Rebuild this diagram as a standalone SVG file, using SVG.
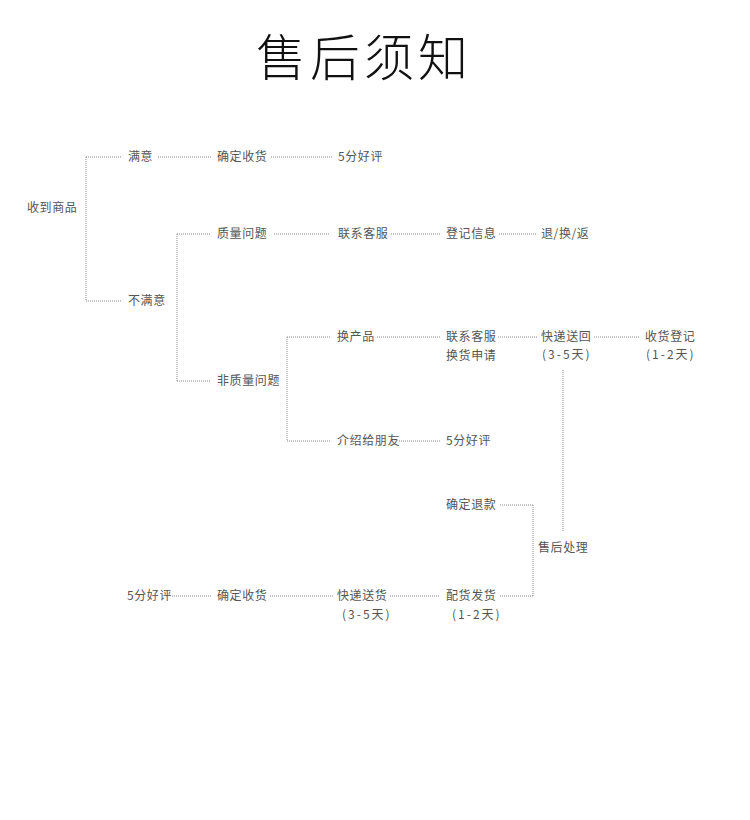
<svg xmlns="http://www.w3.org/2000/svg" width="750" height="820" viewBox="0 0 750 820">
<style>
.t{font-family:"Noto Sans CJK SC","Liberation Sans",sans-serif;font-size:12px;fill:#555;letter-spacing:0.6px}
.p{letter-spacing:2px}
.title{font-family:"Noto Sans CJK SC",sans-serif;font-size:50px;font-weight:300;fill:#111;letter-spacing:4px}
.c line{stroke:#8a8a8a;stroke-width:1;stroke-dasharray:1 1;fill:none}
</style>
<rect width="750" height="820" fill="#fff"/>
<text class="title" x="256" y="76">售后须知</text>
<g class="c" id="connectors">
<line x1="86" y1="157" x2="86" y2="301"/>
<line x1="86" y1="157" x2="121" y2="157"/>
<line x1="86" y1="301" x2="121" y2="301"/>
<line x1="158" y1="157" x2="211" y2="157"/>
<line x1="271" y1="157" x2="332" y2="157"/>
<line x1="177" y1="234" x2="177" y2="381"/>
<line x1="177" y1="234" x2="211" y2="234"/>
<line x1="177" y1="381" x2="211" y2="381"/>
<line x1="274" y1="234" x2="329" y2="234"/>
<line x1="391" y1="234" x2="440" y2="234"/>
<line x1="499" y1="234" x2="537" y2="234"/>
<line x1="287" y1="337" x2="287" y2="441"/>
<line x1="287" y1="337" x2="331" y2="337"/>
<line x1="287" y1="441" x2="331" y2="441"/>
<line x1="377" y1="337" x2="440" y2="337"/>
<line x1="498" y1="337" x2="537" y2="337"/>
<line x1="594" y1="337" x2="640" y2="337"/>
<line x1="399" y1="441" x2="440" y2="441"/>
<line x1="563" y1="370" x2="563" y2="532"/>
<line x1="500" y1="505" x2="533" y2="505"/>
<line x1="533" y1="505" x2="533" y2="596"/>
<line x1="500" y1="596" x2="533" y2="596"/>
<line x1="172" y1="596" x2="211" y2="596"/>
<line x1="270" y1="596" x2="333" y2="596"/>
<line x1="390" y1="596" x2="440" y2="596"/>
</g>
<g id="n1"><text class="t" x="27" y="212">收到商品</text></g>
<g id="n2"><text class="t" x="128" y="161">满意</text></g>
<g id="n3"><text class="t" x="217" y="161">确定收货</text></g>
<g id="n4"><text class="t" x="338" y="161">5分好评</text></g>
<g id="n5"><text class="t" x="128" y="305">不满意</text></g>
<g id="n6"><text class="t" x="217" y="238">质量问题</text></g>
<g id="n7"><text class="t" x="338" y="238">联系客服</text></g>
<g id="n8"><text class="t" x="446" y="238">登记信息</text></g>
<g id="n9"><text class="t" x="541" y="238">退/换/返</text></g>
<g id="n10"><text class="t" x="217" y="385">非质量问题</text></g>
<g id="n11"><text class="t" x="337" y="341">换产品</text></g>
<g id="n12"><text class="t" x="446" y="341">联系客服</text><text class="t" x="446" y="360">换货申请</text></g>
<g id="n13"><text class="t" x="541" y="341">快递送回</text><text class="t p" x="542" y="359">(3-5天)</text></g>
<g id="n14"><text class="t" x="645" y="341">收货登记</text><text class="t p" x="646" y="359">(1-2天)</text></g>
<g id="n15"><text class="t" x="337" y="445">介绍给朋友</text></g>
<g id="n16"><text class="t" x="446" y="445">5分好评</text></g>
<g id="n17"><text class="t" x="446" y="509">确定退款</text></g>
<g id="n18"><text class="t" x="538" y="552">售后处理</text></g>
<g id="n19"><text class="t" x="446" y="600">配货发货</text><text class="t p" x="452" y="619">(1-2天)</text></g>
<g id="n20"><text class="t" x="337" y="600">快递送货</text><text class="t p" x="342" y="619">(3-5天)</text></g>
<g id="n21"><text class="t" x="217" y="600">确定收货</text></g>
<g id="n22"><text class="t" x="127" y="600">5分好评</text></g>
</svg>
